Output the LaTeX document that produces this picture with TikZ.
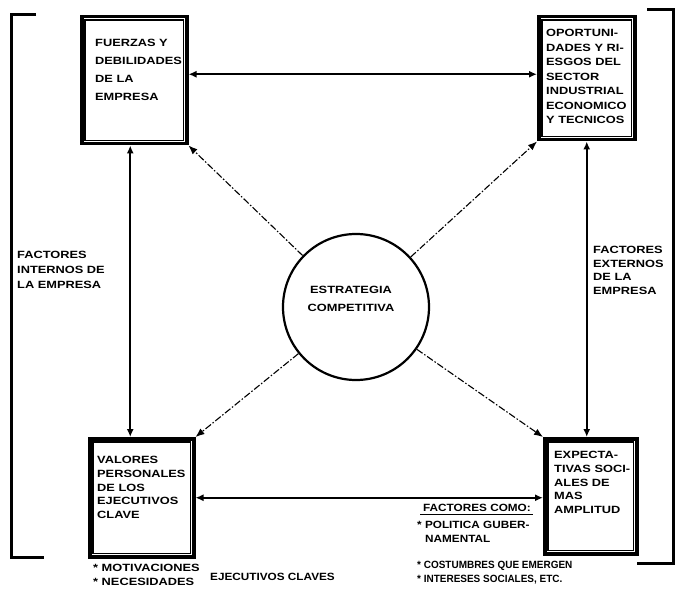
\documentclass[tikz,border=0pt]{standalone}
\usepackage{fontspec}
\setmainfont{Liberation Sans}[FakeStretch=1.22]
\newfontfamily\midfont{Liberation Sans}[FakeStretch=1.12]
\newfontfamily\narrowfont{Liberation Sans}[FakeStretch=0.95]
\usetikzlibrary{arrows.meta}
\begin{document}
\begin{tikzpicture}[x=1pt,y=1pt,
  box/.style={draw,line width=3.5pt,anchor=north west,inner sep=0pt},
  inner/.style={line width=1.2pt},
  lbl/.style={anchor=north west,inner sep=0pt,align=left,font=\fontsize{10.5}{14}\selectfont\bfseries},
  note/.style={anchor=north west,inner sep=0pt,align=left,font=\midfont\fontsize{10.5}{14}\selectfont\bfseries},
  conn/.style={line width=1.8pt,{Latex[length=8pt,width=7pt]}-{Latex[length=8pt,width=7pt]}},
  diag/.style={line width=1.1pt,dash pattern=on 7pt off 2pt on 1.5pt off 2pt,-{Latex[length=9pt,width=7pt]}},
  brk/.style={line width=3pt}]
\useasboundingbox[fill=white] (0,0) rectangle (678,-591);
% brackets
\draw[brk] (36,-15) -- (11,-15) -- (11,-557) -- (44,-557);
\draw[brk] (647,-10) -- (673,-10) -- (673,-563) -- (637,-563);
% boxes
\node[box,minimum width=105,minimum height=127] (tl) at (80,-15) {};
\draw[inner] ([shift={(5,-5)}]tl.north west) rectangle ([shift={(-5,5)}]tl.south east);
\node[box,minimum width=96,minimum height=123] (tr) at (537,-15) {};
\draw[inner] ([shift={(5,-5)}]tr.north west) rectangle ([shift={(-5,5)}]tr.south east);
\node[box,minimum width=104,minimum height=118] (bl) at (88,-437) {};
\draw[inner] ([shift={(5,-5)}]bl.north west) rectangle ([shift={(-5,5)}]bl.south east);
\node[box,minimum width=92,minimum height=115] (br) at (543,-437) {};
\draw[inner] ([shift={(5,-5)}]br.north west) rectangle ([shift={(-5,5)}]br.south east);
% circle
\node[draw,circle,line width=2.2pt,minimum size=146,inner sep=0pt] (c) at (356,-307) {};
\node[lbl,anchor=center,align=center,font=\fontsize{10.5}{18}\selectfont\bfseries] (ct) at (351,-299) {ESTRATEGIA\\COMPETITIVA};
% box texts
\node[lbl,font=\fontsize{10.5}{18}\selectfont\bfseries] (tlt) at (95,-39) {FUERZAS Y\\DEBILIDADES\\DE LA\\EMPRESA};
\node[lbl,font=\fontsize{10.5}{14.5}\selectfont\bfseries] (trt) at (546,-29) {OPORTUNI-\\DADES Y RI-\\ESGOS DEL\\SECTOR\\INDUSTRIAL\\ECONOMICO\\Y TECNICOS};
\node[lbl,font=\fontsize{10.5}{13.8}\selectfont\bfseries] (blt) at (97,-456) {VALORES\\PERSONALES\\DE LOS\\EJECUTIVOS\\CLAVE};
\node[lbl,font=\fontsize{10.5}{13.8}\selectfont\bfseries] (brt) at (554,-451) {EXPECTA-\\TIVAS SOCI-\\ALES DE\\MAS\\AMPLITUD};
% side labels
\node[lbl,font=\fontsize{10.5}{15}\selectfont\bfseries] (fi) at (17,-251) {FACTORES\\INTERNOS DE\\LA EMPRESA};
\node[lbl,font=\fontsize{10.5}{13.5}\selectfont\bfseries] (fe) at (593,-246) {FACTORES\\EXTERNOS\\DE LA\\EMPRESA};
% bottom notes
\node[lbl] (mot) at (93,-564) {* MOTIVACIONES\\* NECESIDADES};
\node[note] (ejc) at (210,-573) {EJECUTIVOS CLAVES};
\node[note] (fc) at (423,-504) {FACTORES COMO:};
\draw[line width=1.3pt] ([xshift=-3pt,yshift=-3pt]fc.south west) -- ([xshift=2pt,yshift=-3pt]fc.south east);
\node[note,font=\midfont\fontsize{10.5}{13.5}\selectfont\bfseries] (pol) at (417,-521) {* POLITICA GUBER-\\\hspace*{8pt}NAMENTAL};
\node[note,font=\narrowfont\fontsize{10.5}{13.5}\selectfont\bfseries] (cos) at (417,-561) {* COSTUMBRES QUE EMERGEN\\* INTERESES SOCIALES, ETC.};
% connectors
\draw[conn] ([yshift=6pt]tl.east) -- ([yshift=6pt]tl.east -| tr.west);
\draw[conn] ([xshift=-4pt]tl.south) -- ([xshift=-4pt]tl.south |- bl.north);
\draw[conn] (tr.south) -- (tr.south |- br.north);
\draw[conn] (bl.east) -- (bl.east -| br.west);
% diagonals
\draw[diag] (c) -- (tl.south east);
\draw[diag] (c) -- (tr.south west);
\draw[diag] (c) -- (bl.north east);
\draw[diag] (c) -- (br.north west);
\end{tikzpicture}
\end{document}
